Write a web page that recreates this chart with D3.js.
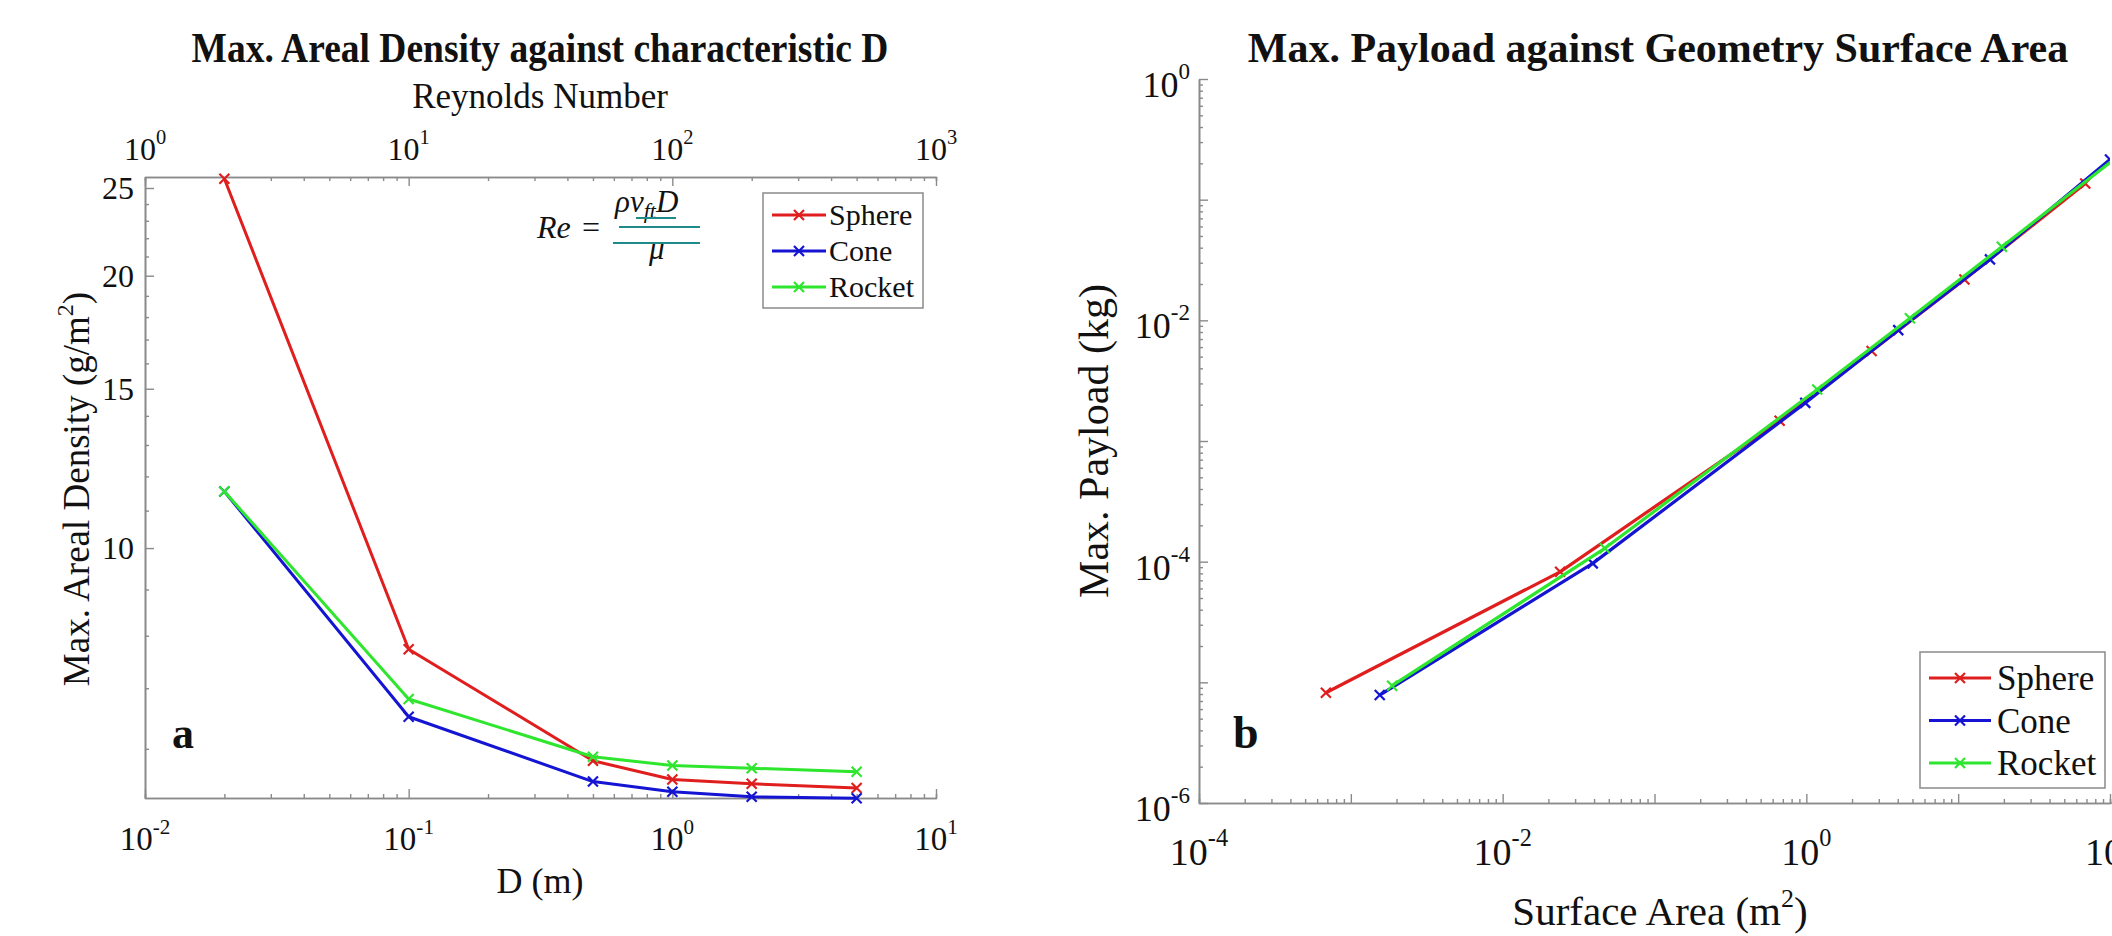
<!DOCTYPE html>
<html><head><meta charset="utf-8">
<script src="https://cdn.jsdelivr.net/npm/d3@7"></script>
<style>
body{margin:0;background:#fff;}
svg{display:block;}
text{font-family:"Liberation Serif","Times New Roman",serif;fill:#111;}
</style>
</head><body>
<svg id="c" width="2112" height="936"></svg>
<script>
// ---------- data ----------
const seriesNames = ["Sphere", "Cone", "Rocket"];
const seriesColors = ["#e01e1e", "#1414d2", "#2ee62e"];

// panel a
const diameters = [0.02, 0.1, 0.5, 1, 2, 5];
const densitySphere = [25.6, 7.73, 5.82, 5.55, 5.49, 5.43];
const densityCone = [11.55, 6.51, 5.52, 5.38, 5.31, 5.29];
const densityRocket = [11.55, 6.81, 5.88, 5.75, 5.71, 5.66];
const densityTickLabels = [10, 15, 20, 25];
const densityMinorTicks = d3.range(6, 26);
const dMajorTicks = [0.01, 0.1, 1, 10];
const reMajorTicks = [1, 10, 100, 1000];

// panel b
const areaSphere = [6.85e-4, 0.0239, 0.667, 2.69, 11.0, 68.7];
const payloadSphere = [8.2e-6, 8.24e-5, 1.47e-3, 5.58e-3, 0.0218, 0.136];
const areaCone = [1.55e-3, 0.0392, 0.984, 4.03, 16.2, 100];
const payloadCone = [7.85e-6, 9.68e-5, 2.07e-3, 8.30e-3, 0.0320, 0.215];
const areaRocket = [1.87e-3, 0.0471, 1.18, 4.81, 19.4, 121];
const payloadRocket = [9.38e-6, 1.29e-4, 2.67e-3, 0.0104, 0.0407, 0.245];
const areaLabelTicks = [1e-4, 1e-2, 1, 1e2];
const payloadLabelTicks = [1e-6, 1e-4, 1e-2, 1];

// ---------- helpers ----------
const svg = d3.select("#c");
const AX = "#8a8a8a";

function styleAxis(g) {
  g.selectAll("path.domain").attr("stroke", AX).attr("stroke-width", 1.6);
  g.selectAll(".tick line").attr("stroke", AX).attr("stroke-width", 1.4);
  g.selectAll(".tick text").remove();
}
function pow10Label(sel, v, size) {
  const e = Math.round(Math.log10(v));
  sel.text(null);
  sel.append("tspan").text("10");
  sel.append("tspan").attr("font-size", size * 0.64).attr("dy", -size * 0.5).text(e);
}
function cross(g, x, y, r, color, w) {
  g.append("path").attr("d", `M${x - r},${y - r}L${x + r},${y + r}M${x - r},${y + r}L${x + r},${y - r}`)
    .attr("stroke", color).attr("stroke-width", w).attr("fill", "none");
}

// ================= PANEL A =================
const xD = d3.scaleLog().domain([0.01, 10]).range([145, 936]);
const xRe = d3.scaleLog().domain([1, 1000]).range([145, 936]);
const yDen = d3.scaleLog().domain([5.294, 25.71]).range([798, 177]);
const ga = svg.append("g");

// axes: bottom
ga.append("g").attr("transform", "translate(0,798)")
  .call(d3.axisBottom(xD).tickValues(xD.ticks().filter(v => !dMajorTicks.includes(v))).tickSize(-4).tickFormat(""))
  .call(styleAxis);
ga.append("g").attr("transform", "translate(0,798)")
  .call(d3.axisBottom(xD).tickValues(dMajorTicks).tickSize(-9).tickSizeOuter(0).tickFormat(""))
  .call(styleAxis);
// top (Reynolds)
ga.append("g").attr("transform", "translate(0,177)")
  .call(d3.axisTop(xRe).tickValues(xRe.ticks().filter(v => !reMajorTicks.includes(v))).tickSize(-4).tickFormat(""))
  .call(styleAxis);
ga.append("g").attr("transform", "translate(0,177)")
  .call(d3.axisTop(xRe).tickValues(reMajorTicks).tickSize(-9).tickSizeOuter(0).tickFormat(""))
  .call(styleAxis);
// left
ga.append("g").attr("transform", "translate(145,0)")
  .call(d3.axisLeft(yDen).tickValues(densityMinorTicks.filter(v => !densityTickLabels.includes(v))).tickSize(-4).tickSizeOuter(0).tickFormat(""))
  .call(styleAxis);
ga.append("g").attr("transform", "translate(145,0)")
  .call(d3.axisLeft(yDen).tickValues(densityTickLabels).tickSize(-9).tickSizeOuter(0).tickFormat(""))
  .call(styleAxis);

// tick labels
ga.selectAll("text.xb").data(dMajorTicks).join("text").attr("class", "xb")
  .attr("x", d => xD(d)).attr("y", 850).attr("text-anchor", "middle").attr("font-size", 33)
  .each(function (d) { pow10Label(d3.select(this), d, 33); });
ga.selectAll("text.xt").data(reMajorTicks).join("text").attr("class", "xt")
  .attr("x", d => xRe(d)).attr("y", 160).attr("text-anchor", "middle").attr("font-size", 32)
  .each(function (d) { pow10Label(d3.select(this), d, 32); });
ga.selectAll("text.yl").data(densityTickLabels).join("text").attr("class", "yl")
  .attr("x", 134).attr("y", d => yDen(d) + 11).attr("text-anchor", "end").attr("font-size", 32)
  .text(d => d);

// titles & labels
ga.append("text").attr("transform", "translate(540,62) scale(1,1.1)").attr("text-anchor", "middle")
  .attr("font-size", 37.5).attr("font-weight", "bold").text("Max. Areal Density against characteristic D");
ga.append("text").attr("x", 540).attr("y", 108).attr("text-anchor", "middle")
  .attr("font-size", 35).text("Reynolds Number");
ga.append("text").attr("x", 540).attr("y", 893).attr("text-anchor", "middle")
  .attr("font-size", 36).text("D (m)");
const yla = ga.append("text").attr("transform", "translate(89,489) rotate(-90)")
  .attr("text-anchor", "middle").attr("font-size", 37);
yla.append("tspan").text("Max. Areal Density (g/m");
yla.append("tspan").attr("font-size", 24).attr("dy", -16).text("2");
yla.append("tspan").attr("dy", 16).text(")");
ga.append("text").attr("x", 172).attr("y", 748).attr("font-size", 44).attr("font-weight", "bold").text("a");

// equation
const eq = ga.append("g");
eq.append("text").attr("x", 537).attr("y", 238).attr("font-size", 32).attr("font-style", "italic").text("Re");
eq.append("text").attr("x", 582).attr("y", 238).attr("font-size", 32).text("=");
const num = eq.append("text").attr("x", 615).attr("y", 212).attr("font-size", 31).attr("font-style", "italic");
num.append("tspan").text("ρv");
num.append("tspan").attr("font-size", 22).attr("dy", 6).text("ft");
num.append("tspan").attr("dy", -6).text("D");
eq.append("text").attr("x", 649).attr("y", 259).attr("font-size", 31).attr("font-style", "italic").text("μ");
eq.append("line").attr("x1", 619).attr("x2", 700).attr("y1", 227).attr("y2", 227).attr("stroke", "#1f8a8a").attr("stroke-width", 2);
eq.append("line").attr("x1", 613).attr("x2", 700).attr("y1", 243).attr("y2", 243).attr("stroke", "#1f8a8a").attr("stroke-width", 2);
eq.append("line").attr("x1", 636).attr("x2", 676).attr("y1", 218).attr("y2", 218).attr("stroke", "#1f8a8a").attr("stroke-width", 2);

// series
const densitySeries = [densitySphere, densityCone, densityRocket];
const lineA = d3.line().x(d => xD(d[0])).y(d => yDen(d[1]));
densitySeries.forEach((vals, i) => {
  const pts = diameters.map((d, j) => [d, vals[j]]);
  ga.append("path").attr("d", lineA(pts)).attr("fill", "none")
    .attr("stroke", seriesColors[i]).attr("stroke-width", 3).attr("stroke-linejoin", "round");
  pts.forEach(p => cross(ga, xD(p[0]), yDen(p[1]), 5, seriesColors[i], 2.2));
});

// legend a
const lga = ga.append("g");
lga.append("rect").attr("x", 763).attr("y", 193).attr("width", 160).attr("height", 115)
  .attr("fill", "#fff").attr("stroke", "#8a8a8a").attr("stroke-width", 1.5);
seriesNames.forEach((n, i) => {
  const y = 215 + i * 36;
  lga.append("line").attr("x1", 772).attr("x2", 826).attr("y1", y).attr("y2", y)
    .attr("stroke", seriesColors[i]).attr("stroke-width", 3);
  cross(lga, 799, y, 5, seriesColors[i], 2.2);
  lga.append("text").attr("x", 829).attr("y", y + 10).attr("font-size", 30).text(n);
});

// ================= PANEL B =================
const xA = d3.scaleLog().domain([1e-4, 1e2]).range([1199, 2110]);
const yP = d3.scaleLog().domain([1e-6, 1]).range([803, 79]);
const gb = svg.append("g");

const isDecade = v => Math.abs(Math.log10(v) - Math.round(Math.log10(v))) < 1e-9;
gb.append("g").attr("transform", "translate(0,803)")
  .call(d3.axisBottom(xA).tickValues(xA.ticks().filter(v => !isDecade(v))).tickSize(-4).tickFormat(""))
  .call(styleAxis);
gb.append("g").attr("transform", "translate(0,803)")
  .call(d3.axisBottom(xA).tickValues(xA.ticks().filter(isDecade)).tickSize(-9).tickSizeOuter(0).tickFormat(""))
  .call(styleAxis);
gb.append("line").attr("x1", 2110).attr("x2", 2112).attr("y1", 803).attr("y2", 803).attr("stroke", AX).attr("stroke-width", 1.6);
gb.append("g").attr("transform", "translate(1199,0)")
  .call(d3.axisLeft(yP).tickValues(yP.ticks().filter(v => !isDecade(v))).tickSize(-4).tickSizeOuter(0).tickFormat(""))
  .call(styleAxis);
gb.append("g").attr("transform", "translate(1199,0)")
  .call(d3.axisLeft(yP).tickValues(yP.ticks().filter(isDecade)).tickSize(-9).tickSizeOuter(0).tickFormat(""))
  .call(styleAxis);

gb.selectAll("text.xb").data(areaLabelTicks).join("text").attr("class", "xb")
  .attr("x", d => xA(d)).attr("y", 865).attr("text-anchor", "middle").attr("font-size", 38)
  .each(function (d) { pow10Label(d3.select(this), d, 38); });
gb.selectAll("text.yl").data(payloadLabelTicks).join("text").attr("class", "yl")
  .attr("x", 1190).attr("y", d => yP(d) + 18).attr("text-anchor", "end").attr("font-size", 36)
  .each(function (d) { pow10Label(d3.select(this), d, 36); });

gb.append("text").attr("x", 1658).attr("y", 62).attr("text-anchor", "middle")
  .attr("font-size", 42).attr("font-weight", "bold").text("Max. Payload against Geometry Surface Area");
const xlb = gb.append("text").attr("x", 1660).attr("y", 925).attr("text-anchor", "middle").attr("font-size", 41);
xlb.append("tspan").text("Surface Area (m");
xlb.append("tspan").attr("font-size", 26).attr("dy", -18).text("2");
xlb.append("tspan").attr("dy", 18).text(")");
gb.append("text").attr("transform", "translate(1108,441) rotate(-90)").attr("text-anchor", "middle")
  .attr("font-size", 42).text("Max. Payload (kg)");
gb.append("text").attr("x", 1233).attr("y", 748).attr("font-size", 46).attr("font-weight", "bold").text("b");

svg.append("clipPath").attr("id", "clipb").append("rect").attr("x", 1199).attr("y", 79).attr("width", 911).attr("height", 724);
const gbl = gb.append("g").attr("clip-path", "url(#clipb)");
const payloadSeries = [[areaSphere, payloadSphere], [areaCone, payloadCone], [areaRocket, payloadRocket]];
const lineB = d3.line().x(d => xA(d[0])).y(d => yP(d[1]));
payloadSeries.forEach(([xs, ys], i) => {
  const pts = xs.map((x, j) => [x, ys[j]]);
  gbl.append("path").attr("d", lineB(pts)).attr("fill", "none")
    .attr("stroke", seriesColors[i]).attr("stroke-width", 3.2).attr("stroke-linejoin", "round");
  pts.forEach(p => cross(gbl, xA(p[0]), yP(p[1]), 5, seriesColors[i], 2.2));
});

// legend b
const lgb = gb.append("g");
lgb.append("rect").attr("x", 1920).attr("y", 652).attr("width", 185).attr("height", 136)
  .attr("fill", "#fff").attr("stroke", "#8a8a8a").attr("stroke-width", 1.5);
seriesNames.forEach((n, i) => {
  const y = 678 + i * 42.5;
  lgb.append("line").attr("x1", 1929).attr("x2", 1991).attr("y1", y).attr("y2", y)
    .attr("stroke", seriesColors[i]).attr("stroke-width", 3);
  cross(lgb, 1960, y, 5, seriesColors[i], 2.2);
  lgb.append("text").attr("x", 1997).attr("y", y + 12).attr("font-size", 35).text(n);
});
</script>
</body></html>
